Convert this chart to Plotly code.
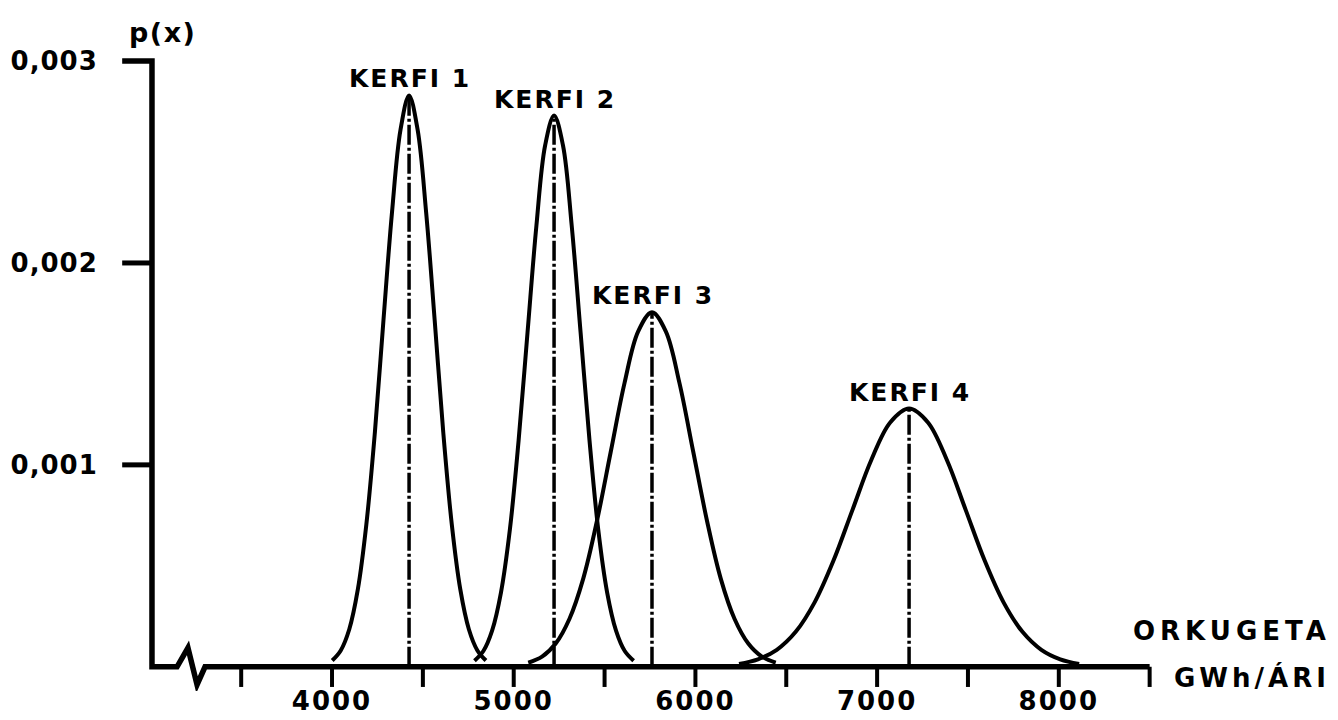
import plotly.graph_objects as go

# ---------------- data ----------------
kerfi_names = ["KERFI 1", "KERFI 2", "KERFI 3", "KERFI 4"]

k1_x = [4001, 4048, 4095, 4142, 4189, 4236, 4283, 4330, 4377, 4424,
        4471, 4518, 4565, 4612, 4659, 4706, 4753, 4800, 4847]
k1_y = [0.000031, 0.000081, 0.000186, 0.000383, 0.000706, 0.001163, 0.001716, 0.002250, 0.002660, 0.002830,
        0.002660, 0.002250, 0.001716, 0.001163, 0.000706, 0.000383, 0.000186, 0.000081, 0.000031]

k2_x = [4784, 4833, 4881, 4930, 4979, 5027, 5076, 5125, 5173, 5222,
        5271, 5319, 5368, 5417, 5465, 5514, 5563, 5611, 5660]
k2_y = [0.000030, 0.000078, 0.000179, 0.000369, 0.000681, 0.001122, 0.001656, 0.002186, 0.002583, 0.002730,
        0.002583, 0.002186, 0.001656, 0.001122, 0.000681, 0.000369, 0.000179, 0.000078, 0.000030]

k3_x = [5080, 5156, 5231, 5307, 5383, 5458, 5534, 5610, 5685, 5761,
        5837, 5912, 5988, 6064, 6139, 6215, 6291, 6366, 6442]
k3_y = [0.000020, 0.000050, 0.000115, 0.000238, 0.000438, 0.000722, 0.001065, 0.001406, 0.001661, 0.001756,
        0.001661, 0.001406, 0.001065, 0.000722, 0.000438, 0.000238, 0.000115, 0.000050, 0.000020]

k4_x = [6240, 6344, 6448, 6552, 6656, 6760, 6864, 6968, 7072, 7176,
        7280, 7384, 7488, 7592, 7696, 7800, 7904, 8008, 8112]
k4_y = [0.000014, 0.000037, 0.000084, 0.000173, 0.000319, 0.000526, 0.000776, 0.001024, 0.001210, 0.001279,
        0.001210, 0.001024, 0.000776, 0.000526, 0.000319, 0.000173, 0.000084, 0.000037, 0.000014]

means = [4424, 5222, 5761, 7176]
peaks = [0.002830, 0.002730, 0.001756, 0.001279]

x_tick_vals = [4000, 5000, 6000, 7000, 8000]
x_tick_text = ["4000", "5000", "6000", "7000", "8000"]
x_mark_vals = [3500, 4000, 4500, 5000, 5500, 6000, 6500, 7000, 7500, 8000, 8500]
y_tick_vals = [0.001, 0.002, 0.003]
y_tick_text = ["0,001", "0,002", "0,003"]

y_title = "p(x)"
x_title_1 = "ORKUGETA"
x_title_2 = "GWh/ÁRI"

# ---------------- styling ----------------
FONT = "DejaVu Sans"
INK = "#000000"


def spaced(text, px):
    return f'<span style="letter-spacing:{px}px">{text}</span>'


curves_x = [k1_x, k2_x, k3_x, k4_x]
curves_y = [k1_y, k2_y, k3_y, k4_y]

fig = go.Figure()

for name, cx, cy in zip(kerfi_names, curves_x, curves_y):
    fig.add_trace(go.Scatter(
        x=cx, y=cy, mode="lines", name=name,
        line=dict(color=INK, width=4, shape="spline", smoothing=1.0),
        showlegend=False, hoverinfo="skip",
    ))

for name, m, p in zip(kerfi_names, means, peaks):
    fig.add_trace(go.Scatter(
        x=[m, m], y=[0, p], mode="lines",
        line=dict(color=INK, width=3.5, dash="20px,3px,3px,3px"),
        showlegend=False, hoverinfo="skip",
    ))

# KERFI labels above each peak
for name, m, p in zip(kerfi_names, means, peaks):
    fig.add_annotation(
        x=m, y=p, xref="x", yref="y", text=spaced(name, 2),
        showarrow=False, xanchor="center", yanchor="bottom", yshift=0, xshift=1,
        font=dict(family=FONT, size=25, color=INK, weight="bold"),
    )

# ---------------- hand-drawn style axes ----------------
X_LEFT = 2833
X_RIGHT = 8557
Y_AXIS_X = 3009
Y_TICK_START = 2845
X_END = x_mark_vals[-1]

axis_path = (
    f"M {Y_TICK_START},{y_tick_vals[-1]} L {Y_AXIS_X},{y_tick_vals[-1]} "
    f"L {Y_AXIS_X},0 L 3147,0 L 3207,0.000094 L 3257,-0.000089 L 3301,0 "
    f"L {X_END},0"
)
fig.add_shape(type="path", path=axis_path, xref="x", yref="y",
              line=dict(color=INK, width=5.5))

for v in y_tick_vals[:-1]:
    fig.add_shape(type="line", xref="x", yref="y",
                  x0=Y_TICK_START, x1=Y_AXIS_X, y0=v, y1=v,
                  line=dict(color=INK, width=5))

for v in x_mark_vals:
    fig.add_shape(type="line", xref="x", yref="y",
                  x0=v, x1=v, y0=0, y1=-0.0001,
                  line=dict(color=INK, width=4))

# titles
fig.add_annotation(x=0.0404, y=1.035, xref="paper", yref="paper",
                   text=spaced(y_title, 1.5), showarrow=False,
                   xanchor="center", yanchor="middle",
                   font=dict(family=FONT, size=27, color=INK, weight="bold"))
fig.add_annotation(x=0.972, y=0.094, xref="paper", yref="paper",
                   text=spaced(x_title_1, 5), showarrow=False,
                   xanchor="left", yanchor="middle",
                   font=dict(family=FONT, size=26, color=INK, weight="bold"))
fig.add_annotation(x=1.012, y=0.022, xref="paper", yref="paper",
                   text=spaced(x_title_2, 4), showarrow=False,
                   xanchor="left", yanchor="middle",
                   font=dict(family=FONT, size=26, color=INK, weight="bold"))

fig.update_layout(
    width=1338, height=720,
    margin=dict(l=120, r=178, t=55, b=29, autoexpand=False),
    paper_bgcolor="white", plot_bgcolor="white",
    showlegend=False,
    xaxis=dict(
        range=[X_LEFT, X_RIGHT], showgrid=False, zeroline=False, showline=False,
        automargin=False,
        tickmode="array", tickvals=x_tick_vals,
        ticktext=[spaced(t, 2) for t in x_tick_text],
        ticks="", ticklabelstandoff=-8,
        tickfont=dict(family=FONT, size=26, color=INK, weight="bold"),
    ),
    yaxis=dict(
        range=[-0.00012, 0.00303], showgrid=False, zeroline=False, showline=False,
        automargin=False,
        tickmode="array", tickvals=y_tick_vals,
        ticktext=[spaced(t, 1) for t in y_tick_text],
        ticks="outside", ticklen=16, tickcolor="rgba(0,0,0,0)",
        tickfont=dict(family=FONT, size=26, color=INK, weight="bold"),
    ),
)

fig.write_html("out.html")
